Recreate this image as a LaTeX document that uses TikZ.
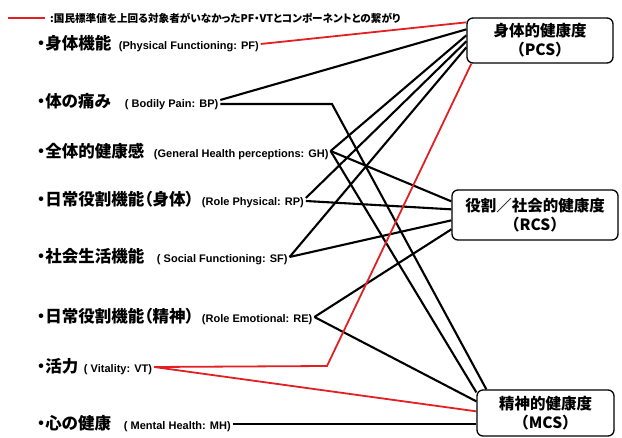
\documentclass[tikz,border=0pt]{standalone}
\usepackage{fontspec}
\usetikzlibrary{calc,backgrounds}
\newfontfamily\jp{Noto Sans CJK JP}[RawFeature=+palt]
\newfontfamily\jpbox{Noto Sans CJK JP}
\newfontfamily\en{Liberation Sans}
\definecolor{lred}{RGB}{226,32,36}
\newcommand{\mylab}[3]{\makebox[#1][l]{\jp\bfseries\fontsize{16.5}{19}\selectfont #2}{\en\bfseries\fontsize{11}{13}\selectfont #3}}
\tikzset{
  lab/.style={anchor=west, inner sep=0pt, outer sep=2pt},
  comp/.style={draw, line width=1.3pt, rounded corners=6pt, fill=white, align=center,
    inner sep=0pt, font=\jpbox\bfseries\fontsize{15.5}{19}\selectfont},
  blk/.style={line width=2.1pt, black},
  rd/.style={line width=1.8pt, lred},
}
\begin{document}
\begin{tikzpicture}[x=1pt,y=-1pt]
\useasboundingbox (0,0) rectangle (622,438);
% legend
\coordinate (l1) at (8,18);
\coordinate (l2) at (45,18);
\node[anchor=west, inner sep=0pt, font=\jp\bfseries\fontsize{10.6}{12}\selectfont] (legtext) at (50,18)
  {:国民標準値を上回る対象者がいなかったPF・VTとコンポーネントとの繋がり};
% labels
\node[lab] (pf) at (35,44)  {\mylab{82pt}{・身体機能}{(Physical Functioning: PF)}};
\node[lab] (bp) at (35,102) {\mylab{88pt}{・体の痛み}{( Bodily Pain: BP)}};
\node[lab] (gh) at (35,151) {\mylab{117pt}{・全体的健康感}{(General Health perceptions: GH)}};
\node[lab] (rp) at (35,200) {\mylab{165pt}{・日常役割機能（身体）}{(Role Physical: RP)}};
\node[lab] (sf) at (35,257) {\mylab{120pt}{・社会生活機能}{( Social Functioning: SF)}};
\node[lab] (re) at (35,317) {\mylab{165pt}{・日常役割機能（精神）}{(Role Emotional: RE)}};
\node[lab] (vt) at (35,367) {\mylab{47pt}{・活力}{( Vitality: VT)}};
\node[lab] (mh) at (35,424) {\mylab{87pt}{・心の健康}{( Mental Health: MH)}};
% components
\node[comp, minimum width=146pt, minimum height=45pt] (pcs) at (540,40.5) {身体的健康度\\（PCS）};
\node[comp, minimum width=166pt, minimum height=50pt] (rcs) at (535,215) {役割／社会的健康度\\（RCS）};
\node[comp, minimum width=137pt, minimum height=46pt] (mcs) at (545.5,413) {精神的健康度\\（MCS）};
\coordinate (bpk) at (332,104);
\coordinate (vtk) at (327,366);
\begin{scope}[on background layer]
\draw[rd] (l1) -- (l2);
\draw[rd] (pf.east) -- ($(pcs.north west)+(0,5)$);
\draw[blk] ([yshift=2pt]bp.east) -- ($(pcs.north west)+(0,12)$);
\draw[blk] ([yshift=-2pt]bp.east) -- (bpk) -- ($(mcs.north west)+(10,0)$);
\draw[blk] (gh.east) -- ($(pcs.north west)+(0,18)$);
\draw[blk] (gh.east) -- ($(rcs.north west)+(0,12)$);
\draw[blk] (gh.east) -- ($(mcs.north west)+(0,3)$);
\draw[blk] ([yshift=2pt]rp.east) -- ($(pcs.north west)+(0,24)$);
\draw[blk] ([yshift=-1pt]rp.east) -- ($(rcs.north west)+(0,20)$);
\draw[blk] (sf.east) -- ($(pcs.north west)+(0,30)$);
\draw[blk] (sf.east) -- ($(rcs.north west)+(0,31)$);
\draw[blk] (re.east) -- ($(rcs.north west)+(0,40)$);
\draw[blk] (re.east) -- ($(mcs.north west)+(0,12)$);
\draw[rd] (vt.east) -- (vtk) -- ($(pcs.south west)+(5,0)$);
\draw[rd] (vt.east) -- ($(mcs.north west)+(0,22)$);
\draw[blk] (mh.east) -- (mh.east -| mcs.west);
\end{scope}
\end{tikzpicture}
\end{document}
